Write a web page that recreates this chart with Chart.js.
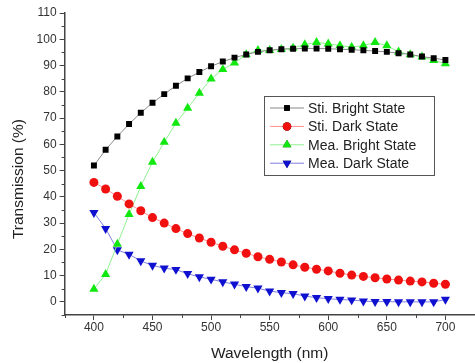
<!DOCTYPE html>
<html>
<head>
<meta charset="utf-8">
<script src="https://cdn.jsdelivr.net/npm/chart.js@4.4.1/dist/chart.umd.min.js"></script>
<style>
    html, body { margin: 0; padding: 0; background: #fff; overflow: hidden; }
    #wrap { width: 480px; height: 363px; }
</style>
</head>
<body>
<div id="wrap"><canvas id="specChart" width="480" height="363"></canvas></div>
<script>
const wavelengths = [400, 410, 420, 430, 440, 450, 460, 470, 480, 490, 500, 510, 520, 530, 540, 550,
    560, 570, 580, 590, 600, 610, 620, 630, 640, 650, 660, 670, 680, 690, 700];

const stiBright = [51.9, 57.9, 63, 67.7, 72, 75.8, 79.1, 82.3, 85.1, 87.5, 89.7, 91.5, 93, 94.2, 95.2, 95.8,
    96.2, 96.4, 96.5, 96.5, 96.4, 96.2, 96, 95.8, 95.5, 95.2, 94.7, 94.2, 93.4, 92.8, 92.1];
const stiDark = [45.5, 43, 40.2, 37.3, 34.7, 32.1, 30, 27.9, 26, 24.3, 22.7, 21.2, 19.8, 18.5, 17.2, 16.2,
    15.2, 14.1, 13.2, 12.4, 11.8, 10.9, 10.2, 9.7, 9.2, 8.7, 8.3, 7.9, 7.6, 7.1, 6.7];
const meaBright = [4.9, 10.5, 22, 33.3, 44, 53.2, 60.8, 68.1, 73.8, 79.5, 84.9, 88.5, 91, 94.2, 95.8, 95.8,
    96.2, 96.7, 98, 98.8, 98.3, 97.6, 97, 97.6, 98.8, 97.6, 95.2, 94.2, 93.3, 92, 90.7];
const meaDark = [34, 27.9, 19.8, 18.1, 15.6, 13.9, 12.8, 12.3, 10.7, 9.5, 8.6, 7.6, 6.7, 5.8, 5.2, 4.1,
    3.5, 3.1, 2.2, 1.6, 1.2, 0.9, 0.7, 0.3, 0.1, 0.1, 0, 0, 0, 0, 0.9];

const seriesNames = ['Sti. Bright State', 'Sti. Dark State', 'Mea. Bright State', 'Mea. Dark State'];

const xTickValues = [400, 450, 500, 550, 600, 650, 700];
const yTickValues = [0, 10, 20, 30, 40, 50, 60, 70, 80, 90, 100, 110];

const FONT = "'Liberation Sans', Arial, sans-serif";

function toPoints(values) {
    return values.map((v, i) => ({ x: wavelengths[i], y: v }));
}

// minor ticks between the labelled ones
const minorTicks = {
    id: 'minorTicks',
    afterDraw(chart) {
        const ctx = chart.ctx;
        const x = chart.scales.x;
        const y = chart.scales.y;
        ctx.save();
        ctx.strokeStyle = '#444';
        ctx.lineWidth = 1;
        for (let v = 375; v <= 725; v += 50) {
            const px = Math.round(x.getPixelForValue(v)) + 0.5;
            ctx.beginPath();
            ctx.moveTo(px, y.bottom);
            ctx.lineTo(px, y.bottom + 3);
            ctx.stroke();
        }
        for (let v = -5; v <= 105; v += 10) {
            const py = Math.round(y.getPixelForValue(v)) + 0.5;
            ctx.beginPath();
            ctx.moveTo(x.left, py);
            ctx.lineTo(x.left - 3, py);
            ctx.stroke();
        }
        ctx.restore();
    }
};

// boxed legend inside the plot
const boxLegend = {
    id: 'boxLegend',
    afterDraw(chart, args, opts) {
        const ctx = chart.ctx;
        ctx.save();
        ctx.strokeStyle = '#555';
        ctx.lineWidth = 1;
        ctx.strokeRect(opts.left + 0.5, opts.top + 0.5, opts.width, opts.height);
        ctx.font = '14px ' + FONT;
        ctx.textBaseline = 'middle';
        chart.data.datasets.forEach((ds, i) => {
            const cy = opts.top + 12 + i * 18.4;
            ctx.strokeStyle = ds.borderColor;
            ctx.beginPath();
            ctx.moveTo(opts.left + 6, cy);
            ctx.lineTo(opts.left + 40, cy);
            ctx.stroke();
            Chart.helpers.drawPoint(ctx, {
                pointStyle: ds.pointStyle,
                rotation: ds.pointRotation || 0,
                radius: ds.pointRadius * 0.95,
                borderWidth: 0
            }, opts.left + 23, cy);
            ctx.fillStyle = ds.pointBackgroundColor;
            ctx.fill();
            ctx.fillStyle = '#222';
            ctx.fillText(ds.label, opts.left + 44, cy + 1);
        });
        ctx.restore();
    }
};

window.onload = () => {
    const ctx = document.getElementById('specChart').getContext('2d');
    new Chart(ctx, {
        type: 'line',
        data: {
            datasets: [
                {
                    label: seriesNames[0],
                    data: toPoints(stiBright),
                    borderColor: '#8a8a8a',
                    pointBackgroundColor: '#000',
                    pointBorderColor: '#000',
                    pointStyle: 'rect',
                    pointRadius: 4.2
                },
                {
                    label: seriesNames[1],
                    data: toPoints(stiDark),
                    borderColor: '#ff9090',
                    pointBackgroundColor: '#f01010',
                    pointBorderColor: '#f01010',
                    pointStyle: 'circle',
                    pointRadius: 4.5
                },
                {
                    label: seriesNames[2],
                    data: toPoints(meaBright),
                    borderColor: '#90f090',
                    pointBackgroundColor: '#10e810',
                    pointBorderColor: '#10e810',
                    pointStyle: 'triangle',
                    pointRadius: 5.3
                },
                {
                    label: seriesNames[3],
                    data: toPoints(meaDark),
                    borderColor: '#8080e0',
                    pointBackgroundColor: '#1010d0',
                    pointBorderColor: '#1010d0',
                    pointStyle: 'triangle',
                    pointRotation: 180,
                    pointRadius: 5.3
                }
            ]
        },
        options: {
            responsive: false,
            animation: false,
            layout: { padding: { top: 13, right: 0, left: 9, bottom: 0 } },
            elements: {
                line: { borderWidth: 1, tension: 0 },
                point: { borderWidth: 0 }
            },
            plugins: {
                legend: { display: false },
                tooltip: { enabled: false },
                boxLegend: { left: 264, top: 96, width: 170, height: 79 }
            },
            scales: {
                x: {
                    type: 'linear',
                    min: 375,
                    max: 725,
                    afterBuildTicks: axis => {
                        axis.ticks = xTickValues.map(v => ({ value: v }));
                    },
                    border: { color: '#444', width: 1.5 },
                    grid: { drawOnChartArea: false, tickLength: 5, tickColor: '#444' },
                    ticks: {
                        color: '#333',
                        padding: 0,
                        font: { family: FONT, size: 12 }
                    },
                    title: {
                        display: true,
                        text: 'Wavelength (nm)',
                        color: '#222',
                        font: { family: FONT, size: 15.5 },
                        padding: { top: 10, bottom: 0 }
                    }
                },
                y: {
                    min: -5,
                    max: 110,
                    afterBuildTicks: axis => {
                        axis.ticks = yTickValues.map(v => ({ value: v }));
                    },
                    border: { color: '#444', width: 1.5 },
                    grid: { drawOnChartArea: false, tickLength: 5, tickColor: '#444' },
                    ticks: {
                        color: '#333',
                        padding: 3,
                        font: { family: FONT, size: 12 }
                    },
                    title: {
                        display: true,
                        // trailing spaces push the title a little below the axis centre, as in the original
                        text: 'Transmission (%)       ',
                        color: '#222',
                        font: { family: FONT, size: 15.5 },
                        padding: { top: 0, bottom: 6 }
                    }
                }
            }
        },
        plugins: [minorTicks, boxLegend]
    });
};
</script>
</body>
</html>
